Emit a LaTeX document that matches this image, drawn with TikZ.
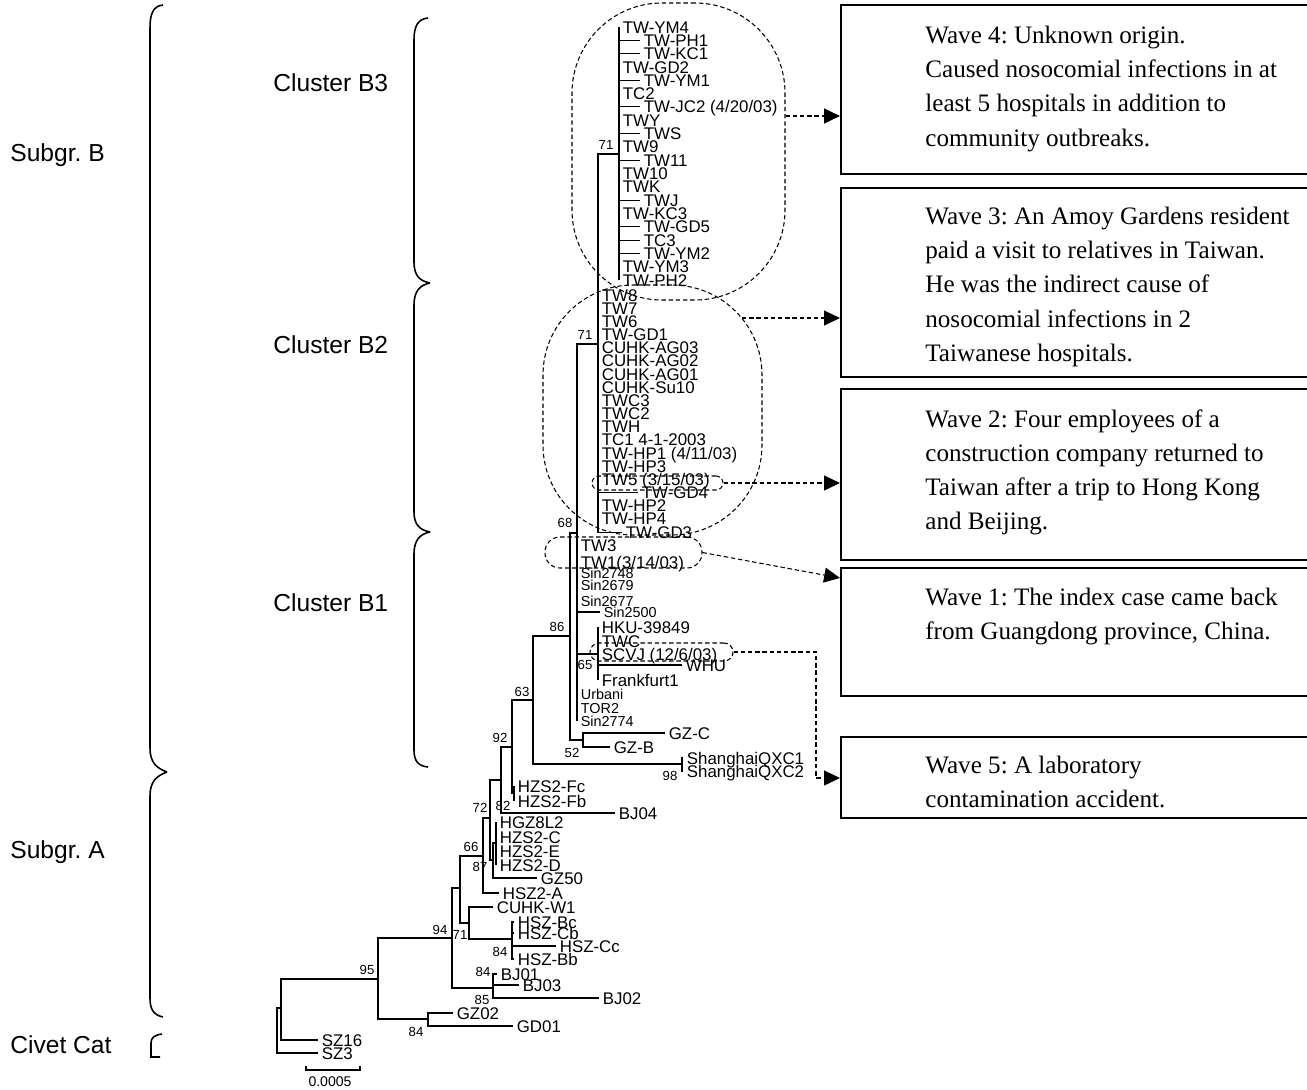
\documentclass[tikz,border=0pt]{standalone}
\usepackage{fontspec}
\setmainfont{Liberation Serif}
\setsansfont{Liberation Sans}
\usetikzlibrary{arrows.meta,fit}
\frenchspacing

\begin{document}
\begin{tikzpicture}[x=0.02cm, y=-0.02cm,
	branch/.style={line width=0.6pt},
	leaf/.style={font=\fontsize{9.6}{9.6}\sffamily\selectfont, anchor=west, inner xsep=2pt, inner ysep=0pt, text height=6.9pt, text depth=0pt},
	smallleaf/.style={leaf, font=\fontsize{8.2}{8.2}\sffamily\selectfont, text height=5.9pt},
	boot/.style={font=\fontsize{7.5}{7.5}\sffamily\selectfont, inner sep=0pt},
	group/.style={font=\fontsize{14}{14}\sffamily\selectfont, anchor=west, inner sep=0pt},
	brace/.style={line width=0.9pt},
	wavebox/.style={draw, line width=1.2pt, inner sep=0pt},
	wavetext/.style={font=\fontsize{14.3}{19.4}\selectfont, align=left, anchor=north west, inner sep=0pt},
	ring/.style={draw, dash pattern=on 2.5pt off 1.6pt, line width=0.6pt, inner sep=0pt},
	wavearrow/.style={dash pattern=on 2.5pt off 1.6pt, line width=0.6pt, -{Triangle[length=9pt,width=8.5pt]}}
	]
	\useasboundingbox (0,0) rectangle (1307,1089);

	% group labels and braces
	\node[group] (sgB) at (10,155) {Subgr. B};
	\node[group] (sgA) at (10,852) {Subgr. A};
	\node[group] (civet) at (10,1045) {Civet Cat};
	\node[group] (cB3) at (273,83) {Cluster B3};
	\node[group] (cB2) at (273,345) {Cluster B2};
	\node[group] (cB1) at (273,603) {Cluster B1};
	\draw[brace] (163,5) .. controls (153,6) and (150,14) .. (150,28) -- (150,748) .. controls (150,762) and (156,768) .. (167,772);
	\draw[brace] (167,772) .. controls (156,776) and (150,782) .. (150,796) -- (150,998) .. controls (150,1010) and (154,1015) .. (163,1017);
	\draw[brace] (162,1034) .. controls (154,1035) and (151,1038) .. (151,1043) -- (151,1057) -- (160,1057);
	\draw[brace] (428,18) .. controls (418,19) and (414,26) .. (414,40) -- (414,262) .. controls (414,276) and (420,281) .. (430,283);
	\draw[brace] (430,283) .. controls (420,285) and (414,291) .. (414,305) -- (414,512) .. controls (414,525) and (420,530) .. (430,532);
	\draw[brace] (430,532) .. controls (420,534) and (414,540) .. (414,554) -- (414,750) .. controls (414,762) and (419,766) .. (428,767);

	% internal nodes of the tree
	\coordinate (root) at (277,1030);
	\coordinate (n0) at (281,1008);
	\coordinate (n95) at (378,979);
	\coordinate (nGD) at (428,1019);
	\coordinate (n94) at (452,938);
	\coordinate (nBJ) at (493,988);
	\coordinate (n71c) at (460,888);
	\coordinate (nW1) at (469,923);
	\coordinate (nHSZ) at (512,939);
	\coordinate (n66) at (483,856);
	\coordinate (n72) at (490,818);
	\coordinate (n87) at (493,860);
	\coordinate (nHZ) at (496,843);
	\coordinate (n82) at (501,780);
	\coordinate (nFc) at (514,793);
	\coordinate (n92) at (512,747);
	\coordinate (n63) at (533,700);
	\coordinate (nSH) at (682,764);
	\coordinate (n86) at (570,636);
	\coordinate (nGZ) at (583,740);
	\coordinate (n68) at (577,533);
	\coordinate (n65) at (598,654);
	\coordinate (n71b) at (598,344);
	\coordinate (n71a) at (619,154);

	% leaves of subgroup A and civet
	\node[leaf] (sz16) at (318,1040) {SZ16};
	\node[leaf] (sz3) at (318,1053) {SZ3};
	\node[leaf] (gz02) at (453,1013) {GZ02};
	\node[leaf] (gd01) at (513,1026) {GD01};
	\node[leaf] (bj01) at (497,974) {BJ01};
	\node[leaf] (bj03) at (519,985) {BJ03};
	\node[leaf] (bj02) at (599,998) {BJ02};
	\node[leaf] (cuhkw1) at (493,907) {CUHK-W1};
	\node[leaf] (hszbc) at (514,922) {HSZ-Bc};
	\node[leaf] (hszcb) at (514,933) {HSZ-Cb};
	\node[leaf] (hszcc) at (556,946) {HSZ-Cc};
	\node[leaf] (hszbb) at (514,959) {HSZ-Bb};
	\node[leaf] (hsz2a) at (499,893) {HSZ2-A};
	\node[leaf] (gz50) at (537,878) {GZ50};
	\node[leaf] (hgz) at (496,822) {HGZ8L2};
	\node[leaf] (hzsc) at (496,837) {HZS2-C};
	\node[leaf] (hzse) at (496,851) {HZS2-E};
	\node[leaf] (hzsd) at (496,865) {HZS2-D};
	\node[leaf] (bj04) at (615,813) {BJ04};
	\node[leaf] (hzsfc) at (514,786) {HZS2-Fc};
	\node[leaf] (hzsfb) at (514,801) {HZS2-Fb};
	\node[leaf] (qxc1) at (683,758) {ShanghaiQXC1};
	\node[leaf] (qxc2) at (683,771) {ShanghaiQXC2};
	\node[leaf] (gzc) at (665,733) {GZ-C};
	\node[leaf] (gzb) at (610,747) {GZ-B};

	% leaves of cluster B1
	\node[leaf] (tw3) at (577,545) {TW3};
	\node[leaf] (tw1) at (577,562) {TW1(3/14/03)};
	\node[smallleaf] (sin2748) at (577,573) {Sin2748};
	\node[smallleaf] (sin2679) at (577,585) {Sin2679};
	\node[smallleaf] (sin2677) at (577,601) {Sin2677};
	\node[smallleaf] (sin2500) at (600,612) {Sin2500};
	\node[leaf] (hku) at (598,627) {HKU-39849};
	\node[leaf] (twc) at (598,641) {TWC};
	\node[leaf] (scvj) at (598,654) {SCVJ (12/6/03)};
	\node[leaf] (whu) at (682,665) {WHU};
	\node[leaf] (frank) at (598,680) {Frankfurt1};
	\node[smallleaf] (urbani) at (577,694) {Urbani};
	\node[smallleaf] (tor2) at (577,708) {TOR2};
	\node[smallleaf] (sin2774) at (577,721) {Sin2774};

	% branches
	\draw[branch] (root) |- (n0) (root) |- (sz3.west);
	\draw[branch] (n0) |- (sz16.west) (n0) |- (n95);
	\draw[branch] (n95) |- (n94) (n95) |- (nGD);
	\draw[branch] (nGD) |- (gz02.west) (nGD) |- (gd01.west);
	\draw[branch] (n94) |- (n71c) (n94) |- (nBJ);
	\draw[branch] (nBJ) |- (bj01.west) (nBJ) |- (bj03.west) (nBJ) |- (bj02.west);
	\draw[branch] (n71c) |- (n66) (n71c) |- (nW1);
	\draw[branch] (nW1) |- (cuhkw1.west) (nW1) |- (nHSZ);
	\draw[branch] (nHSZ) |- (hszbc.west) (nHSZ) |- (hszcb.west) (nHSZ) |- (hszcc.west) (nHSZ) |- (hszbb.west);
	\draw[branch] (n66) |- (n72) (n66) |- (hsz2a.west);
	\draw[branch] (n72) |- (n82) (n72) |- (n87);
	\draw[branch] (n87) |- (nHZ) (n87) |- (gz50.west);
	\draw[branch] (nHZ) |- (hgz.west) (nHZ) |- (hzsc.west) (nHZ) |- (hzse.west) (nHZ) |- (hzsd.west);
	\draw[branch] (n82) |- (n92) (n82) |- (bj04.west);
	\draw[branch] (n92) |- (n63) (n92) |- (nFc);
	\draw[branch] (nFc) |- (hzsfc.west) (nFc) |- (hzsfb.west);
	\draw[branch] (n63) |- (n86) (n63) |- (nSH);
	\draw[branch] (nSH) |- (qxc1.west) (nSH) |- (qxc2.west);
	\draw[branch] (n86) |- (n68) (n86) |- (nGZ);
	\draw[branch] (nGZ) |- (gzc.west) (nGZ) |- (gzb.west);
	\draw[branch] (n68) |- (n71b) (n68) |- (n65);
	\foreach \t in {tw3,tw1,sin2748,sin2679,sin2677,sin2500,urbani,tor2,sin2774} {
		\draw[branch] (n68) |- (\t.west);
	}
	\foreach \t in {hku,twc,scvj,whu,frank} {
		\draw[branch] (n65) |- (\t.west);
	}
	\draw[branch] (n71b) |- (n71a);

	% cluster B2
	\foreach \lab/\tip [count=\i from 0] in {TW8/598, TW7/598, TW6/598, TW-GD1/598, CUHK-AG03/598, CUHK-AG02/598, CUHK-AG01/598, CUHK-Su10/598, TWC3/598, TWC2/598, TWH/598, TC1 4-1-2003/598, {TW-HP1 (4/11/03)}/598, TW-HP3/598, {TW5 (3/15/03)}/598, TW-GD4/638, TW-HP2/598, TW-HP4/598, TW-GD3/622} {
		\node[leaf] (bb\i) at (\tip,295+13.17*\i) {\lab};
		\draw[branch] (n71b) |- (bb\i.west);
	}

	% cluster B3
	\foreach \lab/\tip [count=\i from 0] in {TW-YM4/619, TW-PH1/640, TW-KC1/640, TW-GD2/619, TW-YM1/640, TC2/619, {TW-JC2 (4/20/03)}/640, TWY/619, TWS/640, TW9/619, TW11/640, TW10/619, TWK/619, TWJ/640, TW-KC3/619, TW-GD5/640, TC3/640, TW-YM2/640, TW-YM3/619, TW-PH2/619} {
		\node[leaf] (bt\i) at (\tip,27+13.32*\i) {\lab};
		\draw[branch] (n71a) |- (bt\i.west);
	}

	% bootstrap values
	\node[boot] (b71a) at (606,145) {71};
	\node[boot] (b71b) at (585,335) {71};
	\node[boot] (b68) at (565,523) {68};
	\node[boot] (b86) at (557,627) {86};
	\node[boot] (b63) at (522,692) {63};
	\node[boot] (b92) at (500,738) {92};
	\node[boot] (b52) at (572,753) {52};
	\node[boot] (b98) at (670,776) {98};
	\node[boot] (b65) at (585,665) {65};
	\node[boot] (b82) at (503,806) {82};
	\node[boot] (b72) at (480,808) {72};
	\node[boot] (b66) at (471,847) {66};
	\node[boot] (b87) at (480,867) {87};
	\node[boot] (b71c) at (460,935) {71};
	\node[boot] (b94) at (440,930) {94};
	\node[boot] (b84a) at (500,952) {84};
	\node[boot] (b84b) at (483,972) {84};
	\node[boot] (b85) at (482,1000) {85};
	\node[boot] (b95) at (367,970) {95};
	\node[boot] (b84c) at (416,1032) {84};

	% scale bar
	\draw[branch] (306,1066) -- (306,1070) -- (360,1070) -- (360,1066);
	\node[boot, font=\fontsize{8}{8}\sffamily\selectfont] (sbar) at (330,1082) {0.0005};

	% dashed rings
	\node[ring, rounded corners=1.8cm, fit={(572,3) (785,300)}] (ellB3) {};
	\node[ring, rounded corners=1.8cm, fit={(543,285) (762,535)}] (ellB2) {};
	\node[ring, rounded corners=0.14cm, fit={(592,476) (723,490)}] (ringtw5) {};
	\node[ring, rounded corners=0.3cm, fit={(545,537) (702,568)}] (ringtw1) {};
	\node[ring, rounded corners=0.18cm, fit={(590,643) (733,661)}] (ringscvj) {};

	% wave boxes
	\node[wavebox, fit={(841,5) (1312,174)}] (w4) {};
	\node[wavebox, fit={(841,188) (1312,377)}] (w3) {};
	\node[wavebox, fit={(841,389) (1312,560)}] (w2) {};
	\node[wavebox, fit={(841,568) (1312,696)}] (w1) {};
	\node[wavebox, fit={(841,737) (1312,818)}] (w5) {};
	\node[wavetext] (t4) at (925,26) {Wave 4: Unknown origin.\\Caused nosocomial infections in at\\least 5 hospitals in addition to\\community outbreaks.};
	\node[wavetext] (t3) at (925,207) {Wave 3: An Amoy Gardens resident\\paid a visit to relatives in Taiwan.\\He was the indirect cause of\\nosocomial infections in 2\\Taiwanese hospitals.};
	\node[wavetext] (t2) at (925,409) {Wave 2: Four employees of a\\construction company returned to\\Taiwan after a trip to Hong Kong\\and Beijing.};
	\node[wavetext] (t1) at (925,588) {Wave 1: The index case came back\\from Guangdong province, China.};
	\node[wavetext] (t5) at (925,756) {Wave 5: A laboratory\\contamination accident.};

	% arrows
	\coordinate (a3) at (742,318);
	\coordinate (bend5) at (816,778);
	\draw[wavearrow] (ellB3.east |- 0,116) -- (w4.west |- 0,116);
	\draw[wavearrow] (a3) -- (w3.west |- a3);
	\draw[wavearrow] (ringtw5.east) -- (w2.west |- ringtw5.east);
	\draw[wavearrow] (ringtw1.east) -- (w1.west |- 0,578);
	\draw[wavearrow] (ringscvj.east) -| (bend5) -- (w5.west |- bend5);
\end{tikzpicture}
\end{document}
